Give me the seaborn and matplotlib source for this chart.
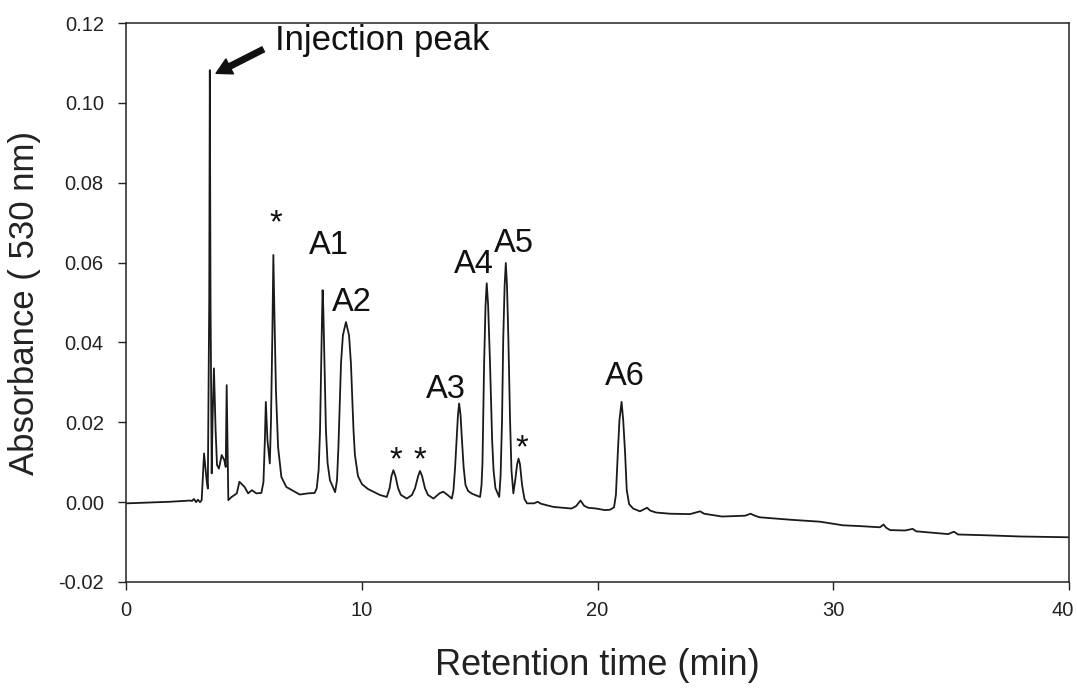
import numpy as np
import pandas as pd
import seaborn as sns
import matplotlib
matplotlib.use("Agg")
from matplotlib import pyplot as plt
from matplotlib.transforms import ScaledTranslation

# chromatogram trace (min, AU at 530 nm)
time_min = [0.04, 1.02, 1.87, 2.71, 2.80, 2.88, 2.97, 3.05, 3.14, 3.21,
            3.31, 3.42, 3.47, 3.53, 3.555, 3.585, 3.635, 3.67, 3.73, 3.80,
            3.86, 3.94, 4.06, 4.17, 4.23, 4.27, 4.34, 4.48, 4.70, 4.81,
            5.03, 5.18, 5.34, 5.53, 5.74, 5.83, 5.89, 5.93, 6.00, 6.10,
            6.15, 6.21, 6.25, 6.30, 6.36, 6.45, 6.59, 6.80, 7.16, 7.37,
            7.72, 8.00, 8.09, 8.17, 8.23, 8.28, 8.32, 8.34, 8.37, 8.42,
            8.48, 8.55, 8.65, 8.79, 8.87, 8.95, 9.01, 9.12, 9.20, 9.33,
            9.46, 9.54, 9.65, 9.71, 9.84, 10.01, 10.26, 10.56, 10.77, 11.06,
            11.18, 11.26, 11.34, 11.43, 11.54, 11.66, 11.91, 12.13, 12.26, 12.39,
            12.47, 12.56, 12.68, 12.81, 13.04, 13.32, 13.46, 13.62, 13.82, 13.89,
            13.96, 14.02, 14.08, 14.13, 14.19, 14.25, 14.32, 14.40, 14.51, 14.68,
            14.89, 15.02, 15.08, 15.12, 15.19, 15.25, 15.30, 15.36, 15.44, 15.53,
            15.59, 15.67, 15.83, 15.89, 15.95, 16.00, 16.06, 16.11, 16.16, 16.22,
            16.29, 16.35, 16.43, 16.52, 16.59, 16.65, 16.71, 16.80, 16.90, 17.01,
            17.31, 17.46, 17.60, 18.13, 18.90, 19.09, 19.28, 19.43, 19.60, 19.94,
            20.32, 20.53, 20.70, 20.78, 20.86, 20.93, 21.02, 21.09, 21.17, 21.24,
            21.34, 21.51, 21.80, 21.97, 22.10, 22.23, 22.48, 23.08, 23.92, 24.22,
            24.35, 24.52, 25.28, 26.26, 26.49, 26.72, 26.89, 28.17, 29.44, 30.41,
            31.13, 31.98, 32.13, 32.24, 32.41, 33.04, 33.37, 33.51, 34.87, 35.12,
            35.29, 36.48, 37.92, 40.00]
absorbance = [-0.0003, -0.0001, 0.0001, 0.0004, 0.0003, 0.0008, 0.0000, 0.0006, 0.0000, 0.0005,
              0.0122, 0.0055, 0.0034, 0.0506, 0.1082, 0.0506, 0.0072, 0.0205, 0.0335, 0.0180,
              0.0093, 0.0084, 0.0118, 0.0105, 0.0088, 0.0293, 0.0005, 0.0013, 0.0022, 0.0051,
              0.0038, 0.0022, 0.0030, 0.0022, 0.0023, 0.0050, 0.0155, 0.0251, 0.0155, 0.0097,
              0.0205, 0.0431, 0.0619, 0.0456, 0.0280, 0.0138, 0.0063, 0.0038, 0.0026, 0.0019,
              0.0022, 0.0023, 0.0035, 0.0080, 0.0180, 0.0348, 0.0481, 0.0531, 0.0481, 0.0348,
              0.0180, 0.0098, 0.0055, 0.0036, 0.0025, 0.0055, 0.0138, 0.0348, 0.0418, 0.0451,
              0.0418, 0.0348, 0.0180, 0.0118, 0.0065, 0.0045, 0.0033, 0.0024, 0.0018, 0.0013,
              0.0035, 0.0065, 0.0080, 0.0065, 0.0035, 0.0018, 0.0009, 0.0018, 0.0035, 0.0065,
              0.0078, 0.0065, 0.0035, 0.0018, 0.0009, 0.0023, 0.0026, 0.0019, 0.0009, 0.0030,
              0.0088, 0.0155, 0.0218, 0.0247, 0.0218, 0.0155, 0.0088, 0.0043, 0.0028, 0.0021,
              0.0016, 0.0013, 0.0043, 0.0098, 0.0348, 0.0493, 0.0548, 0.0493, 0.0348, 0.0155,
              0.0080, 0.0035, 0.0013, 0.0068, 0.0205, 0.0406, 0.0543, 0.0599, 0.0543, 0.0406,
              0.0205, 0.0080, 0.0022, 0.0060, 0.0095, 0.0109, 0.0095, 0.0043, 0.0008, -0.0003,
              -0.0003, 0.0001, -0.0004, -0.0012, -0.0016, -0.0010, 0.0004, -0.0009, -0.0014, -0.0016,
              -0.0020, -0.0019, -0.0013, 0.0018, 0.0122, 0.0205, 0.0251, 0.0205, 0.0122, 0.0030,
              -0.0005, -0.0016, -0.0023, -0.0018, -0.0014, -0.0021, -0.0026, -0.0029, -0.0030, -0.0025,
              -0.0023, -0.0029, -0.0036, -0.0034, -0.0029, -0.0035, -0.0038, -0.0044, -0.0049, -0.0058,
              -0.0060, -0.0063, -0.0056, -0.0064, -0.0070, -0.0071, -0.0067, -0.0073, -0.0080, -0.0074,
              -0.0081, -0.0083, -0.0086, -0.0088]

# peak labels (text, x, y)
peak_labels = ["*", "A1", "A2", "*", "*", "A3", "A4", "A5", "*", "A6"]
label_x = [6.36, 8.61, 9.59, 11.45, 12.47, 13.56, 14.76, 16.47, 16.81, 21.17]
label_y = [0.0696, 0.0644, 0.0500, 0.0103, 0.0103, 0.0282, 0.0594, 0.0647, 0.0134, 0.0314]

sns.set_theme(style="ticks")
plt.rcParams['font.family'] = ['Liberation Sans', 'DejaVu Sans']

df = pd.DataFrame({"t": time_min, "A": absorbance})

fig = plt.figure(figsize=(10.77, 6.89), dpi=100)
ax = fig.add_axes([0.117, 0.1553, 0.8756, 0.8113])
sns.lineplot(data=df, x="t", y="A", ax=ax, color="#1a1a1a", linewidth=1.3,
             estimator=None, sort=False)

ax.set_xlim(0, 40)
ax.set_ylim(-0.02, 0.12)
ax.set_xticks([0, 10, 20, 30, 40])
yt = np.arange(-0.02, 0.121, 0.02)
ax.set_yticks(yt)
ax.set_yticklabels([f"{v:.2f}" for v in yt])
ax.tick_params(axis="both", direction="out", length=6, width=1, colors="#222222",
               labelsize=14.5)
ax.tick_params(axis="y", pad=10)
ax.tick_params(axis="x", pad=8)
for s in ax.spines.values():
    s.set_visible(True)
    s.set_color("#222222")
    s.set_linewidth(1.1)

# last x tick label sits against the figure edge
lab40 = ax.get_xticklabels()[-1]
lab40.set_transform(lab40.get_transform() + ScaledTranslation(-6 / 100, 0, fig.dpi_scale_trans))

ax.set_xlabel("Retention time (min)", fontsize=26, color="#222222", labelpad=20)
ax.set_ylabel("Absorbance ( 530 nm)", fontsize=25, color="#222222", labelpad=12)

for txt, x, y in zip(peak_labels, label_x, label_y):
    ax.text(x, y, txt, fontsize=23.5, ha="center", va="center", color="#111111")

ax.annotate("", xy=(3.82, 0.1074), xytext=(5.82, 0.1134),
            arrowprops=dict(width=4, headwidth=12, headlength=11, color="#111111", shrink=0))
ax.text(6.32, 0.1157, "Injection peak", fontsize=25, ha="left", va="center", color="#111111")

fig.savefig("out.png", dpi=100)
